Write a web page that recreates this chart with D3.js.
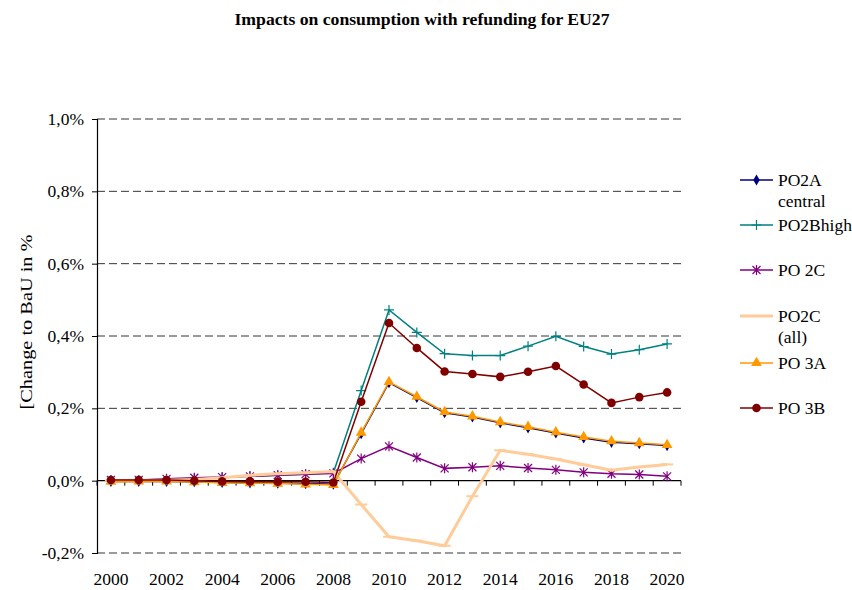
<!DOCTYPE html>
<html>
<head>
<meta charset="utf-8">
<script src="https://cdn.jsdelivr.net/npm/d3@7"></script>
<style>
  body { margin: 0; background: #fff; }
  text { font-family: "Liberation Serif", "Times New Roman", serif; fill: #000; }
</style>
</head>
<body>
<svg id="chart"></svg>
<script>
// Data
const years = d3.range(2000, 2021);
const yTicks = [-0.2, 0, 0.2, 0.4, 0.6, 0.8, 1.0];

const po2a     = [-0.002, -0.002, -0.002, -0.003, -0.005, -0.006, -0.007, -0.008, -0.01, 0.13, 0.271, 0.23, 0.188, 0.176, 0.16, 0.146, 0.132, 0.118, 0.106, 0.102, 0.097];
const po2bHigh = [0.001, 0.001, 0.003, 0.006, 0.009, 0.012, 0.015, 0.018, 0.022, 0.249, 0.472, 0.41, 0.351, 0.346, 0.346, 0.372, 0.399, 0.371, 0.35, 0.362, 0.378];
const po2c     = [0.002, 0.002, 0.005, 0.008, 0.01, 0.012, 0.015, 0.018, 0.02, 0.061, 0.095, 0.064, 0.034, 0.037, 0.041, 0.035, 0.03, 0.023, 0.019, 0.017, 0.012];
const po2cAll  = [0.0, 0.0, 0.001, 0.003, 0.008, 0.015, 0.019, 0.022, 0.025, -0.066, -0.155, -0.166, -0.18, -0.043, 0.084, 0.073, 0.06, 0.044, 0.029, 0.038, 0.045];
const po3a     = [-0.003, -0.002, -0.002, -0.004, -0.006, -0.007, -0.008, -0.01, -0.012, 0.133, 0.273, 0.232, 0.19, 0.178, 0.162, 0.149, 0.134, 0.121, 0.109, 0.104, 0.099];
const po3b     = [0.002, 0.002, 0.002, 0.0, -0.002, -0.002, -0.003, -0.003, -0.005, 0.218, 0.436, 0.367, 0.302, 0.295, 0.287, 0.301, 0.317, 0.266, 0.215, 0.231, 0.244];

const series = [
  {name: ["PO2A", "central"], values: po2a, color: "#000080", marker: "diamond", width: 1.5},
  {name: ["PO2Bhigh"], values: po2bHigh, color: "#008080", marker: "plus", width: 1.5},
  {name: ["PO 2C"], values: po2c, color: "#800080", marker: "star", width: 1.5},
  {name: ["PO2C", "(all)"], values: po2cAll, color: "#FFCC99", marker: "dash", width: 3},
  {name: ["PO 3A"], values: po3a, color: "#FF9900", marker: "triangle", width: 1.5},
  {name: ["PO 3B"], values: po3b, color: "#800000", marker: "circle", width: 1.5}
];
const legendY = [180, 225, 270, 316, 363, 408];

const W = 852, H = 590;
const margin = {top: 119, right: 171, bottom: 37, left: 97};
const innerW = W - margin.left - margin.right;
const innerH = H - margin.top - margin.bottom;

const svg = d3.select("#chart").attr("width", W).attr("height", H);
const g = svg.append("g").attr("transform", `translate(${margin.left},${margin.top})`);

const x = d3.scaleBand().domain(years).range([0, innerW]);
const y = d3.scaleLinear().domain([-0.2, 1.0]).range([innerH, 0]);
const cx = d => x(d) + x.bandwidth() / 2;

const fmt = v => (v < 0 ? "-" : "") + d3.format(".1f")(Math.abs(v)).replace(".", ",") + "%";

// Title
svg.append("text")
  .attr("x", 422).attr("y", 25)
  .attr("text-anchor", "middle")
  .attr("textLength", 375).attr("lengthAdjust", "spacingAndGlyphs")
  .style("font-size", "16px").style("font-weight", "bold")
  .text("Impacts on consumption with refunding for EU27");

// Gridlines
g.selectAll(".grid").data(yTicks.filter(v => v !== 0)).enter().append("line")
  .attr("x1", 0).attr("x2", innerW)
  .attr("y1", d => y(d)).attr("y2", d => y(d))
  .attr("stroke", "#000").attr("stroke-width", 0.8)
  .attr("stroke-dasharray", "8,4");

// Y axis
const yAxis = g.append("g")
  .call(d3.axisLeft(y).tickValues(yTicks).tickFormat(fmt).tickSize(5).tickPadding(8));
yAxis.select(".domain").attr("stroke", "#000").attr("stroke-width", 1.2);
yAxis.selectAll("text").style("font-size", "17.5px").style("font-family", "Liberation Serif");

// X axis line at zero with category ticks
const xAxisG = g.append("g").attr("transform", `translate(0,${y(0)})`);
xAxisG.append("line").attr("x1", 0).attr("x2", innerW).attr("stroke", "#000").attr("stroke-width", 1.2);
xAxisG.selectAll(".tick").data(d3.range(years.length + 1)).enter().append("line")
  .attr("x1", i => i * x.step()).attr("x2", i => i * x.step())
  .attr("y1", 0).attr("y2", 5)
  .attr("stroke", "#000").attr("stroke-width", 1);

// X labels at the bottom
g.selectAll(".xlab").data(years.filter(d => d % 2 === 0)).enter().append("text")
  .attr("x", d => cx(d)).attr("y", innerH + 32)
  .attr("text-anchor", "middle")
  .style("font-size", "17.5px")
  .text(d => d);

// Y axis title
svg.append("text")
  .attr("transform", "translate(32,322) rotate(-90)")
  .attr("text-anchor", "middle")
  .attr("textLength", 175).attr("lengthAdjust", "spacingAndGlyphs")
  .style("font-size", "17px")
  .text("[Change to BaU in %");

// Marker drawing
function drawMarker(sel, type, color) {
  if (type === "diamond") {
    sel.append("path").attr("d", d3.symbol(d3.symbolDiamond, 36)()).attr("fill", color);
  } else if (type === "plus") {
    sel.append("path").attr("d", "M-5,0H5M0,-5V5").attr("stroke", color).attr("stroke-width", 1.2).attr("fill", "none");
  } else if (type === "star") {
    sel.append("path").attr("d", "M-4,-4L4,4M-4,4L4,-4M0,-5V5").attr("stroke", color).attr("stroke-width", 1.2).attr("fill", "none");
  } else if (type === "dash") {
    sel.append("path").attr("d", "M-6,0H6").attr("stroke", color).attr("stroke-width", 2).attr("fill", "none");
  } else if (type === "triangle") {
    sel.append("path").attr("d", d3.symbol(d3.symbolTriangle, 50)()).attr("fill", color);
  } else if (type === "circle") {
    sel.append("circle").attr("r", 4.3).attr("fill", color);
  }
}

const line = d3.line().x((d, i) => cx(years[i])).y(d => y(d));

series.forEach(s => {
  g.append("path")
    .datum(s.values)
    .attr("fill", "none")
    .attr("stroke", s.color)
    .attr("stroke-width", s.width)
    .attr("d", line);
  s.values.forEach((v, i) => {
    const m = g.append("g").attr("transform", `translate(${cx(years[i])},${y(v)})`);
    drawMarker(m, s.marker, s.color);
  });
});

// Legend
const legend = svg.append("g");
series.forEach((s, i) => {
  const ly = legendY[i];
  legend.append("line").attr("x1", 740).attr("x2", 773).attr("y1", ly).attr("y2", ly)
    .attr("stroke", s.color).attr("stroke-width", s.width);
  const m = legend.append("g").attr("transform", `translate(756.5,${ly})`);
  if (s.marker !== "dash") drawMarker(m, s.marker, s.color);
  s.name.forEach((t, k) => {
    legend.append("text").attr("x", 778).attr("y", ly + 6 + k * 21)
      .style("font-size", "17.5px").text(t);
  });
});
</script>
</body>
</html>
